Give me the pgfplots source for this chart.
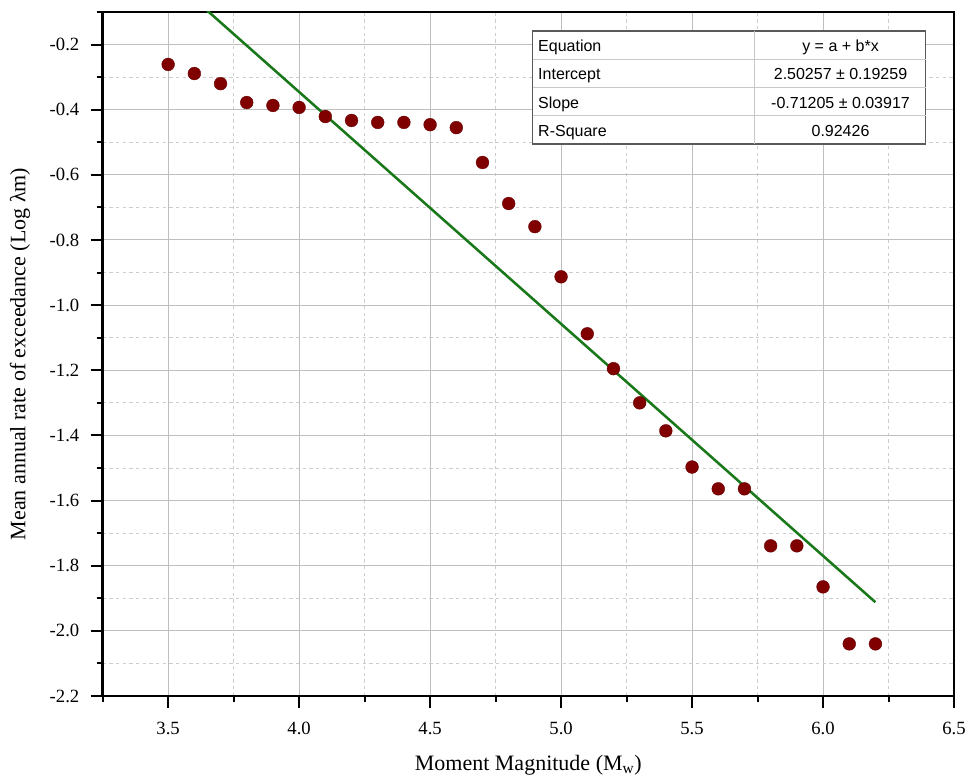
\documentclass[border=0pt]{standalone}
\usepackage{fontspec}
\setmainfont{Liberation Serif}
\newfontfamily\arial{Liberation Sans}
\newfontfamily\timesf{Liberation Serif}
\usepackage{pgfplots}
\pgfplotsset{compat=1.18}
\definecolor{dred}{RGB}{128,0,0}
\definecolor{fitgreen}{RGB}{25,120,25}
\definecolor{majgrid}{RGB}{190,190,190}
\definecolor{mingrid}{RGB}{205,205,205}
\definecolor{tabframe}{RGB}{90,90,90}
\definecolor{tabline}{RGB}{200,200,200}
\begin{document}
\begin{tikzpicture}
\useasboundingbox (-77pt,-63.75pt) rectangle (658pt,522pt);
\begin{axis}[
  at={(0,0)}, anchor=south west,
  scale only axis, width=638.5pt, height=513pt,
  xmin=3.25, xmax=6.5, ymin=-2.2, ymax=-0.1,
  xtick={3.5,4.0,4.5,5.0,5.5,6.0,6.5},
  minor xtick={3.25,3.75,4.25,4.75,5.25,5.75,6.25},
  ytick={-2.2,-2.0,-1.8,-1.6,-1.4,-1.2,-1.0,-0.8,-0.6,-0.4,-0.2},
  minor ytick={-2.1,-1.9,-1.7,-1.5,-1.3,-1.1,-0.9,-0.7,-0.5,-0.3,-0.1},
  grid=both,
  major grid style={majgrid, line width=0.75pt},
  minor grid style={mingrid, dash pattern=on 2.5pt off 2.5pt, line width=0.6pt},
  tick align=outside, xtick pos=bottom, ytick pos=left,
  major tick length=9pt, minor tick length=4.5pt,
  tick style={black, line width=1.5pt},
  axis line style={line width=1.8pt},
  xticklabel={\timesf\pgfmathprintnumber[fixed,fixed zerofill,precision=1,assume math mode=true]{\tick}},
  yticklabel={\timesf\pgfmathprintnumber[fixed,fixed zerofill,precision=1,assume math mode=true]{\tick}},
  tick label style={font=\timesf\fontsize{14}{16}\selectfont},
  xticklabel style={yshift=-7pt},
  yticklabel style={xshift=-5pt},
  xlabel={Moment Magnitude (M\textsubscript{w})},
  ylabel={Mean annual rate of exceedance (Log λm)},
  label style={font=\timesf\fontsize{16.5}{19}\selectfont},
  xlabel style={at={(axis description cs:0.5,-0.1082)}, anchor=base},
  ylabel style={at={(axis description cs:-0.0971,0.5)}, anchor=center, rotate=0},
]
\addplot[only marks, mark=*, mark size=4.8pt, mark options={fill=dred, draw=dred!80!black, line width=0.3pt}] table {
x y
3.5 -0.261
3.6 -0.289
3.7 -0.320
3.8 -0.378
3.9 -0.387
4.0 -0.393
4.1 -0.421
4.2 -0.433
4.3 -0.439
4.4 -0.439
4.5 -0.446
4.6 -0.455
4.7 -0.562
4.8 -0.688
4.9 -0.759
5.0 -0.913
5.1 -1.088
5.2 -1.195
5.3 -1.300
5.4 -1.386
5.5 -1.497
5.6 -1.564
5.7 -1.564
5.8 -1.739
5.9 -1.739
6.0 -1.865
6.1 -2.040
6.2 -2.040
};
\addplot[fitgreen, line width=1.9pt, no marks] table {
x y
3.5 0.0105
6.2 -1.9121
};
\draw[tabframe, fill=white, line width=0.8pt] (rel axis cs:0.5051,0.8070) rectangle (rel axis cs:0.9670,0.9722);
\draw[tabline, line width=0.75pt] (rel axis cs:0.7662,0.8070) -- (rel axis cs:0.7662,0.9722);
\draw[tabline, line width=0.75pt] (rel axis cs:0.5051,0.9309) -- (rel axis cs:0.9670,0.9309);
\draw[tabline, line width=0.75pt] (rel axis cs:0.5051,0.8896) -- (rel axis cs:0.9670,0.8896);
\draw[tabline, line width=0.75pt] (rel axis cs:0.5051,0.8483) -- (rel axis cs:0.9670,0.8483);
\node[anchor=base west, inner sep=0pt, font=\arial\fontsize{12}{14}\selectfont] at (rel axis cs:0.5113,0.9419) {Equation};
\node[anchor=base west, inner sep=0pt, font=\arial\fontsize{12}{14}\selectfont] at (rel axis cs:0.5113,0.9007) {Intercept};
\node[anchor=base west, inner sep=0pt, font=\arial\fontsize{12}{14}\selectfont] at (rel axis cs:0.5113,0.8594) {Slope};
\node[anchor=base west, inner sep=0pt, font=\arial\fontsize{12}{14}\selectfont] at (rel axis cs:0.5113,0.8180) {R-Square};
\node[anchor=base, inner sep=0pt, font=\arial\fontsize{12}{14}\selectfont] at (rel axis cs:0.8667,0.9419) {y = a + b*x};
\node[anchor=base, inner sep=0pt, font=\arial\fontsize{12}{14}\selectfont] at (rel axis cs:0.8667,0.9007) {2.50257 ± 0.19259};
\node[anchor=base, inner sep=0pt, font=\arial\fontsize{12}{14}\selectfont] at (rel axis cs:0.8667,0.8594) {-0.71205 ± 0.03917};
\node[anchor=base, inner sep=0pt, font=\arial\fontsize{12}{14}\selectfont] at (rel axis cs:0.8667,0.8180) {0.92426};
\end{axis}
\end{tikzpicture}
\end{document}
